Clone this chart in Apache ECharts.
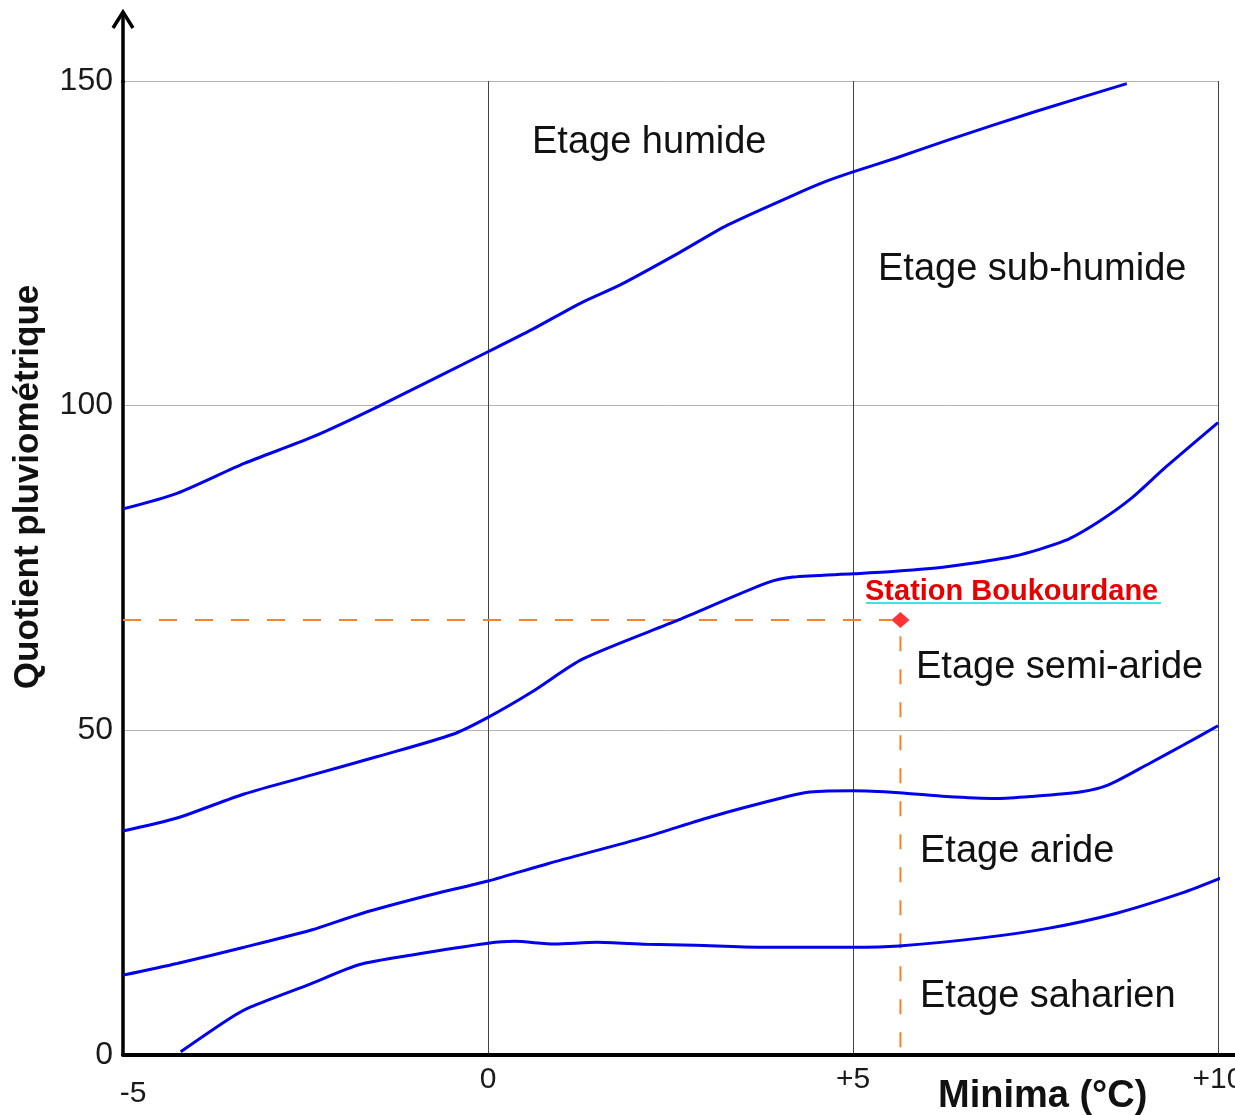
<!DOCTYPE html>
<html>
<head>
<meta charset="utf-8">
<script src="https://cdn.jsdelivr.net/npm/echarts@6/dist/echarts.min.js"></script>
<style>
html,body{margin:0;padding:0;background:#fff;}
#c{width:1235px;height:1115px;}
</style>
</head>
<body>
<div id="c"></div>
<script>
// ---- Data ----
const xTicks = [-5, 0, 5, 10];
const yTicks = [0, 50, 100, 150];

const limitHumide = [[-5,84.1],[-4.26,86.5],[-3.34,91.1],[-2.42,95.1],[-1.5,99.9],[0,108.3],[0.6,111.7],[1.27,115.8],[1.81,118.6],[2.61,123.5],[3.28,127.8],[4.18,132.4],[4.62,134.5],[5,136.0],[5.58,138.1],[6.3,140.9],[7.5,145.3],[8.75,149.6]];
const limitSubHumide = [[-5,34.5],[-4.26,36.5],[-3.34,40.2],[-2.42,43.1],[-1.5,46.0],[-0.48,49.4],[0,52.0],[0.6,55.9],[1.3,61.0],[2.61,67.0],[3.82,72.7],[4.18,73.6],[5,74.1],[5.58,74.5],[6.28,75.2],[7.2,76.8],[7.9,79.2],[8.36,82.1],[8.82,85.8],[9.29,90.6],[10,97.4]];
const limitSemiAride = [[-5,12.3],[-4.26,14.1],[-3.34,16.6],[-2.42,19.25],[-1.73,21.8],[-0.81,24.6],[0,26.8],[0.83,29.5],[2.17,33.6],[3.06,36.7],[4.1,39.8],[4.41,40.5],[5,40.7],[5.63,40.4],[6.28,39.8],[6.97,39.5],[7.43,39.8],[8.13,40.55],[8.5,41.6],[9.06,44.9],[9.52,47.7],[10,50.7]];
const limitAride = [[-4.21,0.5],[-3.57,5.4],[-3.25,7.4],[-2.42,11.0],[-1.77,13.9],[-1.04,15.4],[0,17.2],[0.36,17.5],[0.91,17.1],[1.49,17.35],[2.17,17.05],[2.84,16.9],[3.73,16.6],[5,16.6],[5.63,16.8],[6.74,18.0],[7.67,19.5],[8.6,21.8],[9.52,25.0],[10.05,27.3]];

const stationName = 'Station Boukourdane';
const station = [5.65, 67];

const zoneNames = ['Etage humide', 'Etage sub-humide', 'Etage semi-aride', 'Etage aride', 'Etage saharien'];
const xTitle = 'Minima (°C)';
const yTitle = 'Quotient pluviométrique';

(function () {
  const FONT = '"Liberation Sans", Arial, Helvetica, sans-serif';
  const chart = echarts.init(document.getElementById('c'), null, {renderer: 'canvas'});

  function curve(name, data) {
    return {
      type: 'line', name: name, data: data, smooth: 0.25,
      symbol: 'none', clip: false, z: 3,
      lineStyle: {color: '#0000ee', width: 3}
    };
  }

  const option = {
    animation: false,
    backgroundColor: '#fff',
    grid: {left: 123, right: 17, top: 81, bottom: 60, containLabel: false, outerBoundsMode: 'none'},
    xAxis: {
      type: 'value', min: xTicks[0], max: xTicks[xTicks.length - 1], interval: 5,
      axisLine: {show: true, onZero: false, lineStyle: {color: '#000', width: 4}},
      axisTick: {show: false},
      axisLabel: {
        margin: 10, fontSize: 30, color: '#1a1a1a', fontFamily: FONT,
        formatter: function (v) {
          if (v < 0) return '{neg|' + v + '}';
          if (v === 0) return '0';
          return '+' + v;
        },
        rich: {neg: {fontSize: 30, color: '#1a1a1a', fontFamily: FONT, padding: [14, 0, 0, 20]}}
      },
      splitLine: {show: true, lineStyle: {color: '#444', width: 1}}
    },
    yAxis: {
      type: 'value', min: yTicks[0], max: yTicks[yTicks.length - 1], interval: 50,
      axisLine: {show: true, onZero: false, lineStyle: {color: '#000', width: 3.5}},
      axisTick: {show: false},
      axisLabel: {margin: 10, fontSize: 32, color: '#1a1a1a', fontFamily: FONT},
      splitLine: {show: true, lineStyle: {color: '#b4b4b4', width: 1}}
    },
    series: [
      curve('humide', limitHumide),
      curve('sub-humide', limitSubHumide),
      curve('semi-aride', limitSemiAride),
      curve('aride', limitAride),
      {
        type: 'line', name: 'guideH', data: [[xTicks[0], station[1]], [station[0] - 0.12, station[1]]],
        symbol: 'none', z: 2, lineStyle: {color: '#f5822a', width: 2, type: [18, 18]}
      },
      {
        type: 'line', name: 'guideV', data: [[station[0], station[1] - 2.5], [station[0], 0]],
        symbol: 'none', z: 2, lineStyle: {color: '#f5822a', width: 2, type: [15, 18]}
      },
      {
        type: 'scatter', name: stationName, data: [station],
        symbol: 'diamond', symbolSize: [18, 16], z: 5,
        itemStyle: {color: '#ff0000'}
      }
    ]
  };
  chart.setOption(option);

  // ---- Decorations computed from the axes ----
  const origin = chart.convertToPixel({gridIndex: 0}, [xTicks[0], yTicks[0]]);
  const topPx = chart.convertToPixel({gridIndex: 0}, [xTicks[0], yTicks[yTicks.length - 1]]);
  const rightEnd = chart.convertToPixel({gridIndex: 0}, [xTicks[xTicks.length - 1], yTicks[0]]);
  const ax = origin[0];
  const tipY = topPx[1] - 69;

  const textEl = (txt, x, y, size, weight, color) => ({
    type: 'text', z: 10,
    style: {text: txt, x: x, y: y, font: (weight || 'normal') + ' ' + size + 'px ' + FONT,
            fill: color || '#111', textAlign: 'left', textVerticalAlign: 'middle'}
  });

  chart.setOption({
    graphic: [
      {type: 'line', z: 10, shape: {x1: ax, y1: topPx[1] + 2, x2: ax, y2: tipY + 1},
       style: {stroke: '#000', lineWidth: 3.5}},
      {type: 'polyline', z: 10, shape: {points: [[ax - 10, tipY + 16], [ax, tipY], [ax + 10, tipY + 16]]},
       style: {stroke: '#000', lineWidth: 3.5, fill: null}},
      {type: 'line', z: 10, shape: {x1: rightEnd[0] - 2, y1: rightEnd[1], x2: 1235, y2: rightEnd[1]},
       style: {stroke: '#000', lineWidth: 4}},
      textEl(zoneNames[0], 532, 143, 38),
      textEl(zoneNames[1], 878, 270, 38),
      textEl(zoneNames[2], 916, 668, 38),
      textEl(zoneNames[3], 920, 852, 38),
      textEl(zoneNames[4], 920, 997, 38),
      textEl(stationName, 865, 592, 29, 'bold', '#e60000'),
      {type: 'line', z: 9, shape: {x1: 866, y1: 603, x2: 1161, y2: 603},
       style: {stroke: '#00d8e0', lineWidth: 1.5}},
      textEl(xTitle, 938, 1097, 38, 'bold', '#111'),
      {type: 'text', z: 10, x: 28, y: 487, rotation: Math.PI / 2,
       style: {text: yTitle, x: 0, y: 0, font: 'bold 35px ' + FONT, fill: '#111',
               textAlign: 'center', textVerticalAlign: 'middle'}}
    ]
  });
})();
</script>
</body>
</html>
